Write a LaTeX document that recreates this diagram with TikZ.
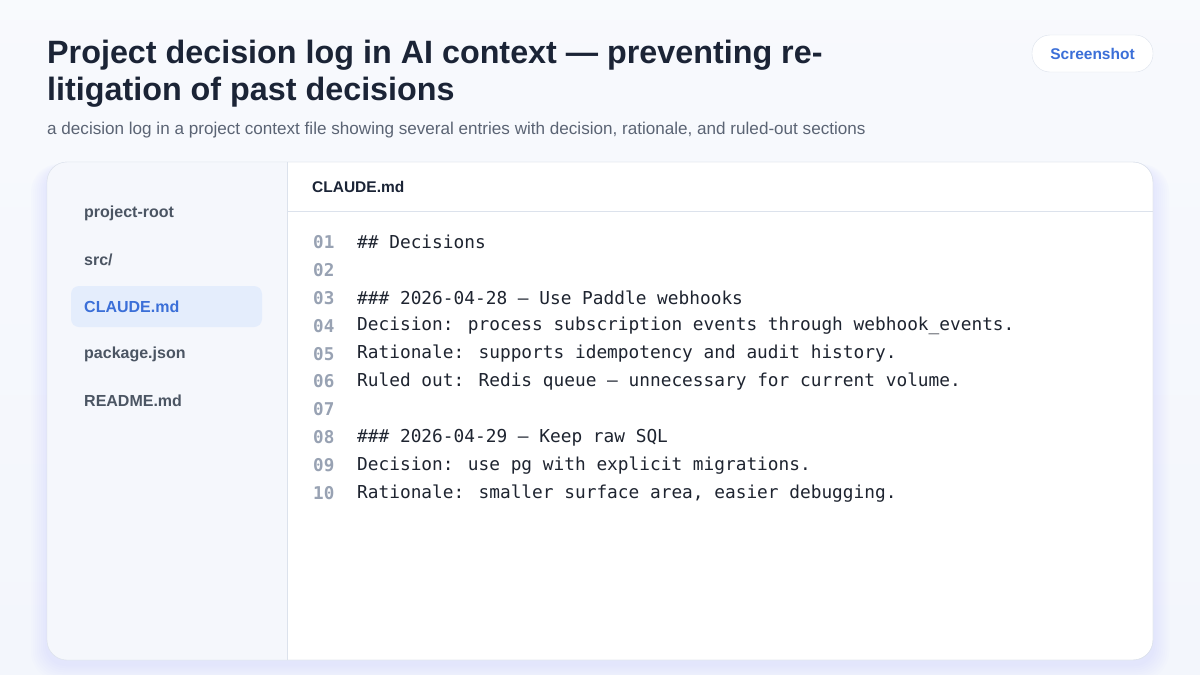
\documentclass[tikz,border=0pt]{standalone}
\usepackage{fontspec}
\setmainfont{Liberation Sans}
\newfontfamily\codefont{DejaVu Sans Mono}
\definecolor{bgc}{HTML}{F3F6FC}
\definecolor{titlec}{HTML}{1B2436}
\definecolor{subc}{HTML}{5B6474}
\definecolor{bordc}{HTML}{DCE2EC}
\definecolor{sidec}{HTML}{F5F7FC}
\definecolor{itemc}{HTML}{4B5563}
\definecolor{bluec}{HTML}{3B6FD8}
\definecolor{selc}{HTML}{E4EDFC}
\definecolor{numc}{HTML}{98A2B3}
\definecolor{codec}{HTML}{1E2430}
\tikzset{
  item/.style={anchor=west,font=\fontsize{16}{18}\selectfont\bfseries,text=itemc,inner sep=0},
  lnum/.style={anchor=west,font=\codefont\bfseries\fontsize{17.6}{20}\selectfont,text=numc,inner sep=0},
  code/.style={anchor=west,font=\codefont\fontsize{17.8}{20}\selectfont,text=codec,inner sep=0},
}
\begin{document}
\begin{tikzpicture}[x=1pt,y=-1pt]
\useasboundingbox (0,0) rectangle (1200,675);
\fill[top color=bgc!60!white,bottom color=bgc] (0,0) rectangle (1200,675);
\node[anchor=west,inner sep=0,font=\fontsize{32.3}{37}\selectfont\bfseries,text=titlec,align=left] (t1) at (47,55) {Project decision log in AI context — preventing re-};
\node[anchor=west,inner sep=0,font=\fontsize{32.3}{37}\selectfont\bfseries,text=titlec] (t2) at (47,92) {litigation of past decisions};
\node[anchor=west,inner sep=0,font=\fontsize{17.1}{20}\selectfont,text=subc] (sub) at (47,130) {a decision log in a project context file showing several entries with decision, rationale, and ruled-out sections};
\draw[bordc,fill=white,rounded corners=18] (1032,35) rectangle (1153,72);
\node[font=\fontsize{15.5}{18}\selectfont\bfseries,text=bluec] (btn) at (1092.5,54) {Screenshot};
\foreach \k in {1,...,8}{
  \fill[blue!25!bgc,opacity=0.03,rounded corners=20+\k] (47-\k*2,162-\k*0.5+6) rectangle (1153+\k*2,660+\k*2+4);
}
\draw[bordc,fill=white,rounded corners=20] (47,162) rectangle (1153,660);
\begin{scope}
\clip[rounded corners=20] (47,162) rectangle (1153,660);
\fill[sidec] (47,162) rectangle (287,660);
\end{scope}
\draw[bordc] (287,162) -- (287,660);
\draw[bordc,rounded corners=20] (47,162) rectangle (1153,660);
\draw[bordc] (287,211) -- (1153,211);
\node[anchor=west,inner sep=0,font=\fontsize{15.5}{18}\selectfont\bfseries,text=titlec] (hdr) at (312,187) {CLAUDE.md};
\fill[selc,rounded corners=8] (71,286) rectangle (262,327);
\node[item] (s1) at (84,213) {project-root};
\node[item] (s2) at (84,260) {src/};
\node[item,text=bluec] (s3) at (84,307) {CLAUDE.md};
\node[item] (s4) at (84,354) {package.json};
\node[item] (s5) at (84,401) {README.md};
\foreach \n/\t [count=\i] in {01/{\#\# Decisions},02/{},03/{\#\#\# 2026-04-28 — Use Paddle webhooks},04/{Decision: process subscription events through webhook\_events.},05/{Rationale: supports idempotency and audit history.},06/{Ruled out: Redis queue — unnecessary for current volume.},07/{},08/{\#\#\# 2026-04-29 — Keep raw SQL},09/{Decision: use pg with explicit migrations.},10/{Rationale: smaller surface area, easier debugging.}}{
  \node[lnum] (n\i) at (313,{242+27.9*(\i-1)}) {\n};
  \node[code] (c\i) at (357,{242+27.9*(\i-1)}) {\t};
}
\end{tikzpicture}
\end{document}
